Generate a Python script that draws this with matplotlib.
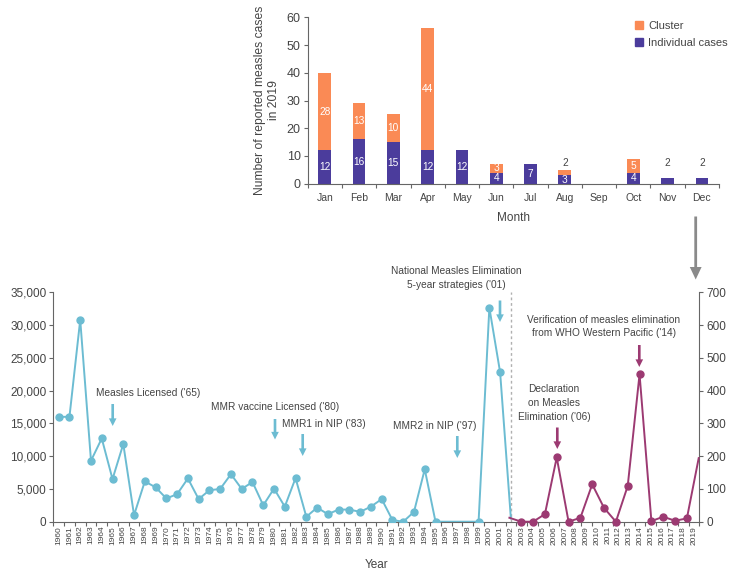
import matplotlib
matplotlib.use('Agg')
import matplotlib.pyplot as plt
from matplotlib.ticker import FixedLocator, FuncFormatter
from matplotlib.patches import Patch

# ---------------- data ----------------
months = ['Jan', 'Feb', 'Mar', 'Apr', 'May', 'Jun', 'Jul', 'Aug', 'Sep', 'Oct', 'Nov', 'Dec']
individual = [12, 16, 15, 12, 12, 4, 7, 3, 0, 4, 2, 2]
cluster = [28, 13, 10, 44, 0, 3, 0, 2, 0, 5, 0, 0]

blue_years = list(range(1960, 1996)) + [1999, 2000, 2001, 2002]
blue_cases = [16000, 16000, 30800, 9300, 12700, 6500, 11850, 1000, 6150, 5250,
              3550, 4200, 6600, 3450, 4800, 5000, 7250, 5000, 6050, 2500,
              5050, 2300, 6650, 750, 2150, 1150, 1850, 1850, 1500, 2300,
              3450, 250, 0, 1500, 8000, 0,
              0, 32650, 22800, 500]

purple_years = list(range(2003, 2020))
purple_cases = [12, 0, 0, 23, 196, 0, 12, 114, 42, 0, 109, 450, 2, 15, 3, 10, 194]

year_labels = [str(y) for y in range(1960, 2020)]
left_ticks = [0, 5000, 10000, 15000, 20000, 25000, 30000, 35000]
right_ticks = [0, 100, 200, 300, 400, 500, 600, 700]

# ---------------- style ----------------
C_CLUSTER = '#FA8A55'
C_INDIV = '#4B3C9C'
C_BLUE = '#6CBCD2'
C_PURPLE = '#9C3A72'
C_TEXT = '#444444'
C_SPINE = '#666666'
W, H = 731, 571

plt.rcParams['font.family'] = ['Liberation Sans', 'DejaVu Sans']
plt.rcParams['text.color'] = C_TEXT
plt.rcParams['axes.labelcolor'] = C_TEXT
plt.rcParams['xtick.color'] = C_SPINE
plt.rcParams['ytick.color'] = C_SPINE
plt.rcParams['xtick.labelcolor'] = C_TEXT
plt.rcParams['ytick.labelcolor'] = C_TEXT

fig = plt.figure(figsize=(W / 100, H / 100), dpi=100)


def rect(x0, y0, x1, y1):
    return [x0 / W, 1 - y1 / H, (x1 - x0) / W, (y1 - y0) / H]


# ---------------- top bar chart ----------------
axb = fig.add_axes(rect(307.7, 17.3, 719, 183.7))
x = list(range(len(months)))
bw = 0.37
axb.bar(x, individual, width=bw, color=C_INDIV, label='Individual cases')
axb.bar(x, cluster, width=bw, bottom=individual, color=C_CLUSTER, label='Cluster')
axb.set_xlim(-0.5, 11.5)
axb.set_ylim(0, 60)
axb.set_yticks([0, 10, 20, 30, 40, 50, 60])
axb.set_xticks(x)
axb.set_xticklabels(months)
axb.xaxis.set_minor_locator(FixedLocator([i - 0.5 for i in range(13)]))
axb.tick_params(axis='x', which='major', length=0, pad=7, labelsize=7.5)
axb.tick_params(axis='x', which='minor', length=3, width=0.8)
axb.tick_params(axis='y', length=3, width=0.8, labelsize=9, pad=2)
for s in ['top', 'right']:
    axb.spines[s].set_visible(False)
for s in ['left', 'bottom']:
    axb.spines[s].set_color(C_SPINE)
    axb.spines[s].set_linewidth(0.8)
axb.set_xlabel('Month', fontsize=8.5, labelpad=6)
axb.set_ylabel('Number of reported measles cases\nin 2019', fontsize=8.7, labelpad=5)

for i in x:
    ind, cl = individual[i], cluster[i]
    top = ind + cl
    if ind >= 3:
        axb.text(i, ind / 2, str(ind), ha='center', va='center', color='white', fontsize=7.3)
    if cl >= 3:
        axb.text(i, ind + cl / 2, str(cl), ha='center', va='center', color='white', fontsize=7.3)
    small = [v for v in (ind, cl) if 0 < v < 3]
    if small:
        axb.annotate(str(small[0]), xy=(i, max(top, 5)), xytext=(0, 1),
                     textcoords='offset points', ha='center', va='bottom',
                     fontsize=7.3, color=C_TEXT)

handles = [Patch(color=C_CLUSTER, label='Cluster'),
           Patch(color=C_INDIV, label='Individual cases')]
fig.legend(handles=handles, loc='upper left', bbox_to_anchor=(627 / W, 1 - 13 / H),
           frameon=False, fontsize=8, handlelength=0.7, handleheight=0.7,
           handletextpad=0.5, labelspacing=0.65, borderpad=0.2)

# ---------------- bottom line chart ----------------
brect = rect(53.3, 292.3, 699.3, 521.7)
ax = fig.add_axes(brect)
ax.plot(blue_years, blue_cases, color=C_BLUE, lw=1.4, marker='o', ms=5,
        markevery=list(range(len(blue_years) - 1)), zorder=3)
ax.set_xlim(1959.5, 2019.5)
ax.set_ylim(0, 35000)
ax.set_yticks(left_ticks)
ax.yaxis.set_major_formatter(FuncFormatter(lambda v, p: f'{int(v):,}'))
ax.set_xticks(list(range(1960, 2020)))
ax.set_xticklabels(year_labels, rotation=90)
ax.xaxis.set_minor_locator(FixedLocator([y - 0.5 for y in range(1960, 2021)]))
ax.tick_params(axis='x', which='major', length=0, pad=3, labelsize=6)
ax.tick_params(axis='x', which='minor', length=3, width=0.8)
ax.tick_params(axis='y', length=3, width=0.8, labelsize=8.5, pad=2)
for s in ['top', 'right']:
    ax.spines[s].set_visible(False)
for s in ['left', 'bottom']:
    ax.spines[s].set_color(C_SPINE)
    ax.spines[s].set_linewidth(0.8)
ax.axvline(2002, color='#b0b0b0', lw=1, ls=(0, (2, 2)), zorder=1)
ax.set_xlabel('Year', fontsize=8.5, labelpad=10)

ax3 = fig.add_axes(brect)
ax3.patch.set_visible(False)
ax3.plot(purple_years, purple_cases, color=C_PURPLE, lw=1.4, marker='o', ms=5,
         markevery=list(range(1, len(purple_years) - 1)), zorder=3, clip_on=False)
ax3.set_xlim(1964.45, 2019.05)
ax3.set_ylim(0, 700)
ax3.set_yticks(right_ticks)
ax3.xaxis.set_visible(False)
ax3.yaxis.tick_right()
ax3.tick_params(axis='y', length=3, width=0.8, labelsize=8.5, pad=2)
for s in ['top', 'left', 'bottom']:
    ax3.spines[s].set_visible(False)
ax3.spines['right'].set_color(C_SPINE)
ax3.spines['right'].set_linewidth(0.8)

# ---------------- annotations ----------------
def ftext(px, py, s, **kw):
    fig.text(px / W, 1 - py / H, s, ha='center', va='center', fontsize=7.3,
             color=C_TEXT, linespacing=1.45, **kw)


def farrow(px, y0, y1, color, sw=1.9, hw=5.5, hl=5.5):
    fig.add_artist(plt.Annotation('', xy=(px / W, 1 - y1 / H), xytext=(px / W, 1 - y0 / H),
                                  xycoords='figure fraction', textcoords='figure fraction',
                                  arrowprops=dict(width=sw, headwidth=hw, headlength=hl,
                                                  color=color, shrink=0, lw=0)))


ftext(148, 393, "Measles Licensed ('65)")
farrow(112.7, 404, 426, C_BLUE)
ftext(275, 407.3, "MMR vaccine Licensed ('80)")
farrow(275, 419, 439.5, C_BLUE)
ftext(324, 424, "MMR1 in NIP ('83)")
farrow(302.7, 434, 456, C_BLUE)
ftext(435, 425.7, "MMR2 in NIP ('97)")
farrow(457.3, 436, 458, C_BLUE)
ftext(456, 278, "National Measles Elimination\n5-year strategies ('01)")
farrow(500, 300.5, 322, C_BLUE)
ftext(554, 403, "Declaration\non Measles\nElimination ('06)")
farrow(557.3, 427.5, 449, C_PURPLE)
ftext(604, 326.7, "Verification of measles elimination\nfrom WHO Western Pacific ('14)")
farrow(639.3, 345, 367, C_PURPLE)

# grey connector arrow
farrow(695.7, 216.5, 279.5, '#8a8a8a', sw=2.0, hw=8.5, hl=9)

fig.savefig('out.png', dpi=100)
